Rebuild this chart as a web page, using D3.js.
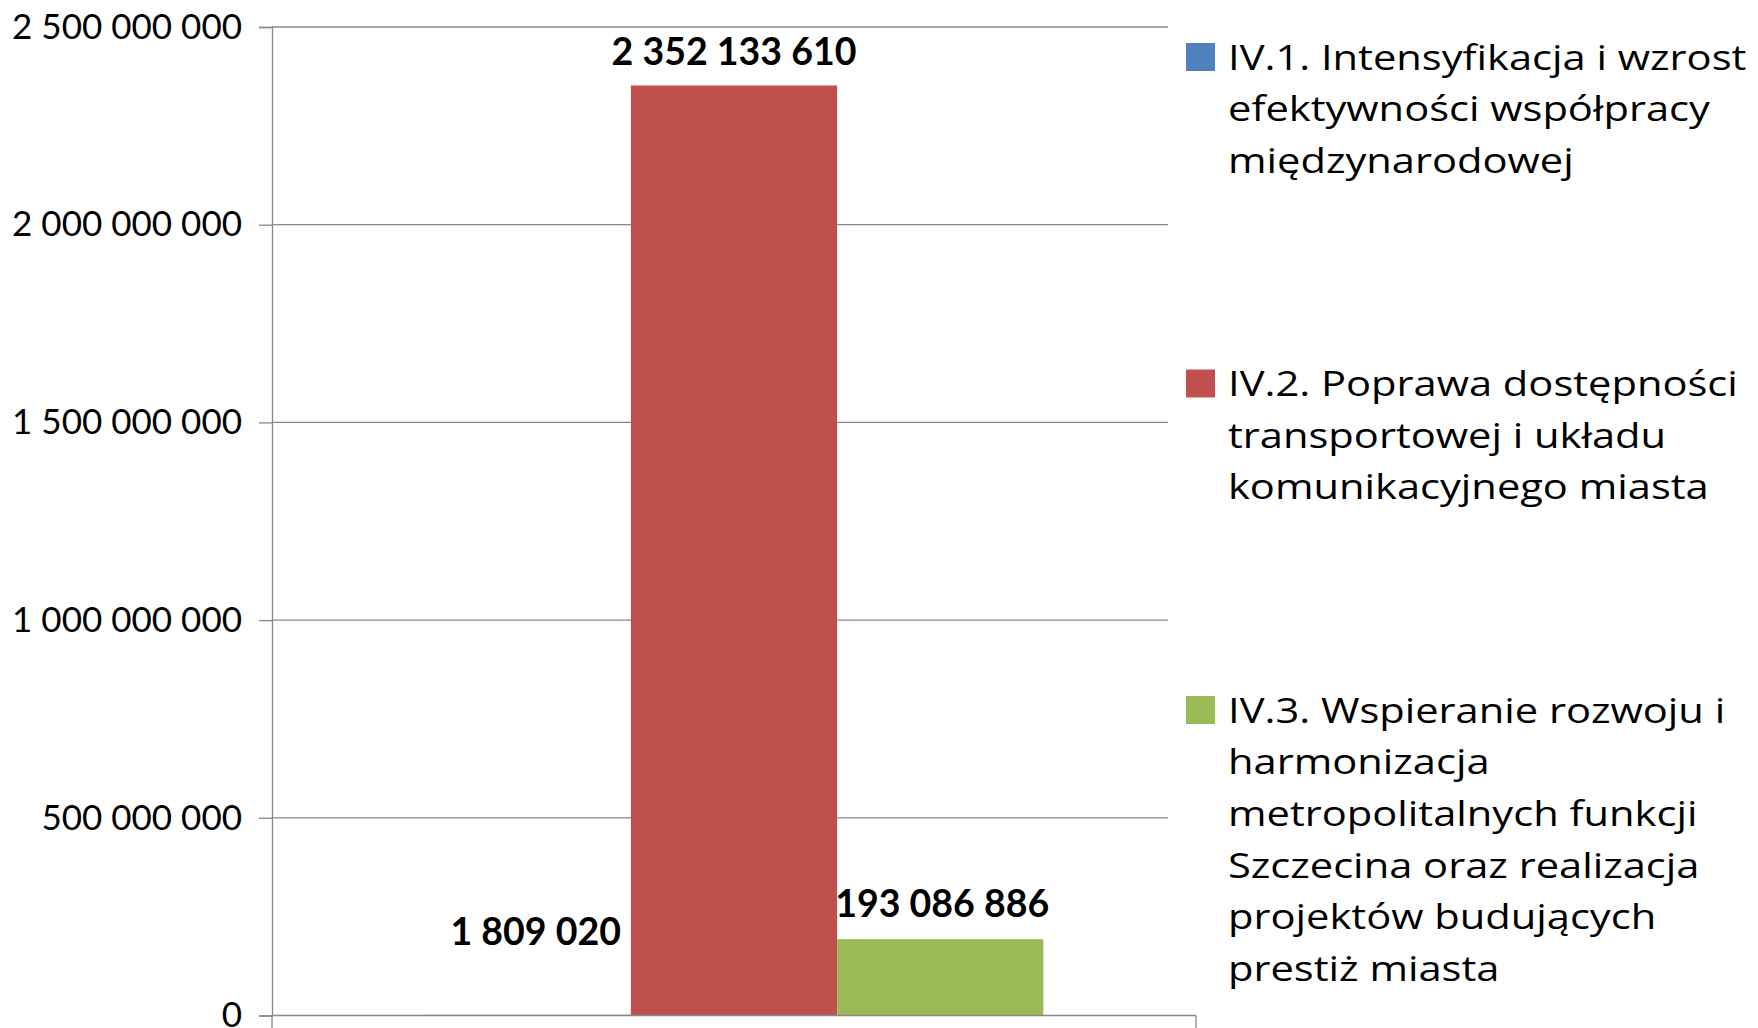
<!DOCTYPE html>
<html>
<head>
<meta charset="utf-8">
<script src="https://cdn.jsdelivr.net/npm/d3@7"></script>
<style>
  body { margin: 0; background: #fff; }
  text { font-family: Lato, "Open Sans", sans-serif; }
  .legend-text { font-family: "Open Sans", sans-serif; }
</style>
</head>
<body>
<div id="chart"></div>
<script>
// data
const category = 'Oś IV';
const seriesNames = [
  'IV.1. Intensyfikacja i wzrost efektywności współpracy międzynarodowej',
  'IV.2. Poprawa dostępności transportowej i układu komunikacyjnego miasta',
  'IV.3. Wspieranie rozwoju i harmonizacja metropolitalnych funkcji Szczecina oraz realizacja projektów budujących prestiż miasta'
];
const legendLines = [
  ['IV.1. Intensyfikacja i wzrost', 'efektywności współpracy', 'międzynarodowej'],
  ['IV.2. Poprawa dostępności', 'transportowej i układu', 'komunikacyjnego miasta'],
  ['IV.3. Wspieranie rozwoju i', 'harmonizacja', 'metropolitalnych funkcji', 'Szczecina oraz realizacja', 'projektów budujących', 'prestiż miasta']
];
const values = [1809020, 2352133610, 193086886];
const seriesColors = ['#4F81BD', '#C0504D', '#9BBB59'];
const yTicks = [0, 500000000, 1000000000, 1500000000, 2000000000, 2500000000];

const W = 1758, H = 1028;
const plot = {left: 272, right: 1196, top: 27, bottom: 1015.5};
const legendLeft = 1168;

const pl = d3.formatLocale({decimal: ',', thousands: ' ', grouping: [3], currency: ['', '']});
const fmt = pl.format(',d');

const svg = d3.select('#chart').append('svg')
  .attr('width', W).attr('height', H);

const y = d3.scaleLinear().domain([0, 2500000000]).range([plot.bottom, plot.top]);
const x0 = d3.scaleBand().domain([category]).range([plot.left, plot.right]);
const x1 = d3.scaleBand().domain(seriesNames).range([0, x0.bandwidth()]).paddingOuter(0.74);

// gridlines
svg.append('g')
  .selectAll('line')
  .data(yTicks.slice(1))
  .enter().append('line')
  .attr('x1', plot.left).attr('x2', plot.right)
  .attr('y1', d => y(d)).attr('y2', d => y(d))
  .attr('stroke', '#888').attr('stroke-width', 1.3);

// y axis
const yAxis = svg.append('g')
  .attr('transform', `translate(${plot.left},0)`)
  .call(d3.axisLeft(y).tickValues(yTicks).tickFormat(fmt).tickSize(13).tickPadding(17));
yAxis.select('.domain').attr('stroke', '#888').attr('stroke-width', 1.3);
yAxis.selectAll('.tick line').attr('stroke', '#888').attr('stroke-width', 1.3);
yAxis.selectAll('.tick text')
  .attr('font-size', 35).attr('fill', '#000');

// bars
const bars = svg.append('g')
  .attr('transform', d => `translate(${x0(category)},0)`);
bars.selectAll('rect')
  .data(values)
  .enter().append('rect')
  .attr('x', (d, i) => x1(seriesNames[i]))
  .attr('width', x1.bandwidth())
  .attr('y', d => y(d))
  .attr('height', d => plot.bottom - y(d))
  .attr('fill', (d, i) => seriesColors[i]);

// x axis with outside ticks at category edges
const xAxis = svg.append('g').attr('transform', `translate(0,${plot.bottom})`);
xAxis.append('line')
  .attr('x1', plot.left).attr('x2', plot.right)
  .attr('stroke', '#888').attr('stroke-width', 1.3);
xAxis.selectAll('line.tk')
  .data([plot.left, plot.right])
  .enter().append('line')
  .attr('class', 'tk')
  .attr('x1', d => d).attr('x2', d => d)
  .attr('y1', 0).attr('y2', 13)
  .attr('stroke', '#888').attr('stroke-width', 1.3);

// data labels (blue one was pulled up by hand in the original)
const nudge = [{dx: 8, dy: -70}, {dx: 0, dy: -20}, {dx: 2, dy: -22}];
bars.selectAll('text')
  .data(values)
  .enter().append('text')
  .attr('x', (d, i) => x1(seriesNames[i]) + x1.bandwidth() / 2 + nudge[i].dx)
  .attr('y', (d, i) => y(d) + nudge[i].dy)
  .attr('text-anchor', 'middle')
  .attr('font-size', 37.5).attr('font-weight', 'bold')
  .text(d => fmt(d));

// legend, white box covers the gridlines' ends
const leg = svg.append('g');
leg.append('rect')
  .attr('x', legendLeft).attr('y', 0)
  .attr('width', W - legendLeft).attr('height', 1000)
  .attr('fill', '#fff');

const entries = leg.selectAll('g.entry')
  .data(seriesNames)
  .enter().append('g')
  .attr('class', 'entry')
  .attr('transform', (d, i) => `translate(1186, ${57 + 326.5 * i})`);

entries.append('rect')
  .attr('x', 0).attr('y', -14)
  .attr('width', 29).attr('height', 28)
  .attr('fill', (d, i) => seriesColors[i]);

entries.append('text')
  .attr('class', 'legend-text')
  .attr('transform', 'translate(42,0) scale(1.19,1)')
  .attr('font-size', 35)
  .selectAll('tspan')
  .data((d, i) => legendLines[i])
  .enter().append('tspan')
  .attr('x', 0)
  .attr('y', (d, j) => 12.5 + j * 51.7)
  .text(d => d);
</script>
</body>
</html>
